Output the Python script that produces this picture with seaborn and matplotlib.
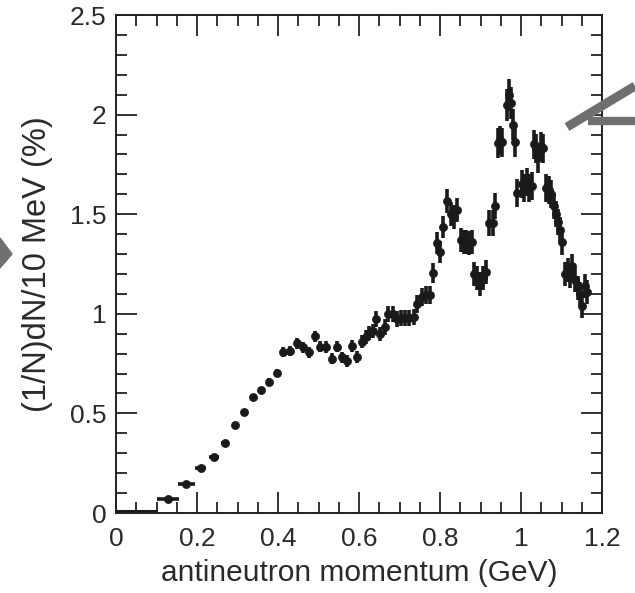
import matplotlib
matplotlib.use("Agg")
import matplotlib.pyplot as plt
from matplotlib.lines import Line2D
from matplotlib.patches import Polygon
from matplotlib.ticker import MultipleLocator
import seaborn as sns
import pandas as pd

# first bin: 0-0.1 GeV drawn as a bare horizontal bar
first_bin_x = 0.05
first_bin_y = 0.01
first_bin_half = 0.05

momentum = [0.129, 0.174, 0.209, 0.242, 0.268, 0.293, 0.316, 0.337, 0.358, 0.378,
            0.397, 0.413, 0.430, 0.446, 0.461, 0.477, 0.491, 0.504, 0.519, 0.533,
            0.546, 0.558, 0.571, 0.583, 0.596, 0.608, 0.617, 0.625, 0.634, 0.642,
            0.652, 0.663, 0.672, 0.683, 0.693, 0.704, 0.714, 0.724, 0.735, 0.744,
            0.755, 0.765, 0.774, 0.782, 0.792, 0.800, 0.808, 0.818, 0.826, 0.834,
            0.843, 0.851, 0.858, 0.865, 0.872, 0.879, 0.884, 0.891, 0.898, 0.906,
            0.914, 0.922, 0.930, 0.936, 0.944, 0.949, 0.954, 0.966, 0.970, 0.974,
            0.979, 0.985, 0.991, 1.002, 1.008, 1.014, 1.020, 1.027, 1.031, 1.037,
            1.043, 1.049, 1.055, 1.062, 1.069, 1.075, 1.081, 1.086, 1.091, 1.096,
            1.101, 1.109, 1.115, 1.120, 1.126, 1.133, 1.141, 1.146, 1.151, 1.158,
            1.164]
rate = [0.070, 0.147, 0.224, 0.281, 0.350, 0.443, 0.507, 0.581, 0.617, 0.659,
        0.701, 0.810, 0.815, 0.852, 0.832, 0.807, 0.887, 0.835, 0.833, 0.774,
        0.835, 0.781, 0.764, 0.838, 0.785, 0.860, 0.885, 0.905, 0.915, 0.975,
        0.897, 0.932, 1.000, 0.999, 0.975, 0.977, 0.980, 0.977, 0.985, 1.050,
        1.085, 1.094, 1.094, 1.205, 1.357, 1.310, 1.437, 1.565, 1.500, 1.487,
        1.520, 1.370, 1.360, 1.360, 1.355, 1.360, 1.200, 1.180, 1.150, 1.180,
        1.210, 1.455, 1.454, 1.540, 1.856, 1.870, 1.860, 2.050, 2.100, 2.060,
        1.950, 1.860, 1.605, 1.650, 1.630, 1.660, 1.630, 1.640, 1.850, 1.830,
        1.780, 1.840, 1.830, 1.630, 1.620, 1.600, 1.540, 1.500, 1.460, 1.420,
        1.360, 1.200, 1.220, 1.190, 1.240, 1.170, 1.130, 1.100, 1.040, 1.140,
        1.110]
rate_err = [0.010, 0.012, 0.012, 0.012, 0.012, 0.014, 0.015, 0.016, 0.017, 0.018,
            0.020, 0.025, 0.025, 0.027, 0.027, 0.027, 0.028, 0.028, 0.028, 0.028,
            0.028, 0.029, 0.029, 0.030, 0.030, 0.032, 0.035, 0.035, 0.035, 0.040,
            0.035, 0.040, 0.040, 0.040, 0.040, 0.040, 0.040, 0.040, 0.040, 0.045,
            0.045, 0.045, 0.045, 0.050, 0.055, 0.055, 0.055, 0.060, 0.060, 0.060,
            0.060, 0.060, 0.060, 0.060, 0.060, 0.060, 0.060, 0.060, 0.060, 0.060,
            0.060, 0.065, 0.065, 0.065, 0.075, 0.075, 0.075, 0.080, 0.080, 0.080,
            0.080, 0.075, 0.070, 0.070, 0.070, 0.070, 0.070, 0.070, 0.075, 0.075,
            0.075, 0.075, 0.075, 0.070, 0.070, 0.070, 0.065, 0.065, 0.065, 0.065,
            0.065, 0.060, 0.060, 0.060, 0.060, 0.060, 0.060, 0.060, 0.060, 0.060,
            0.060]
momentum_err = [0.027, 0.020, 0.014, 0.012, 0.010] + [0.004] * 96

df = pd.DataFrame({"p": momentum, "rate": rate, "rate_err": rate_err, "p_err": momentum_err})

sns.set_theme(style="ticks")
plt.rcParams["font.family"] = ["Liberation Sans", "DejaVu Sans"]

fig = plt.figure(figsize=(6.35, 5.93), dpi=100)
ax = fig.add_axes([0.1827, 0.1349, 0.7654, 0.8398])

ax.errorbar([first_bin_x], [first_bin_y], xerr=[first_bin_half], fmt="none",
            ecolor="#1a1a1a", elinewidth=2.2)
ax.errorbar(df["p"], df["rate"], yerr=df["rate_err"], xerr=df["p_err"], fmt="none",
            ecolor="#1a1a1a", elinewidth=2.6, capsize=0)
sns.scatterplot(data=df, x="p", y="rate", ax=ax, color="#1a1a1a", s=34,
                edgecolor="#1a1a1a", linewidth=0.5, zorder=3)

ax.set_xlim(0, 1.2)
ax.set_ylim(0, 2.5)
ax.xaxis.set_major_locator(MultipleLocator(0.2))
ax.xaxis.set_minor_locator(MultipleLocator(0.05))
ax.yaxis.set_major_locator(MultipleLocator(0.5))
ax.yaxis.set_minor_locator(MultipleLocator(0.1))
ax.set_xticks([0, 0.2, 0.4, 0.6, 0.8, 1.0, 1.2])
ax.set_xticklabels(["0", "0.2", "0.4", "0.6", "0.8", "1", "1.2"])
ax.set_yticks([0, 0.5, 1.0, 1.5, 2.0, 2.5])
ax.set_yticklabels(["0", "0.5", "1", "1.5", "2", "2.5"])
ax.tick_params(which="both", direction="in", top=True, right=True, color="#222222",
               width=1.3, labelsize=19, labelcolor="#2a2a2a")
ax.tick_params(axis="x", pad=10)
ax.tick_params(axis="y", pad=7)
ax.tick_params(which="major", length=15)
ax.tick_params(which="minor", length=8)
for s in ax.spines.values():
    s.set_linewidth(1.4)
    s.set_color("#222222")

ax.set_xlabel("antineutron momentum (GeV)", fontsize=21.5, color="#2a2a2a", labelpad=6)
ax.set_ylabel("(1/N)dN/10 MeV (%)", fontsize=23.5, color="#2a2a2a", labelpad=12)

# grey arrow fragments from the surrounding figure
gray = "#6d706c"
fig.patches.append(Polygon([[0, 1 - 238 / 593], [12 / 635, 1 - 254 / 593], [0, 1 - 268 / 593]],
                           closed=True, transform=fig.transFigure, color=gray))
fig.lines.append(Line2D([567 / 635, 635 / 635], [1 - 127 / 593, 1 - 86 / 593],
                        transform=fig.transFigure, color=gray, linewidth=6.5,
                        solid_capstyle="butt"))
fig.lines.append(Line2D([588 / 635, 635 / 635], [1 - 121 / 593, 1 - 121 / 593],
                        transform=fig.transFigure, color=gray, linewidth=6.0,
                        solid_capstyle="butt"))

fig.savefig("out.png", dpi=100)
plt.close(fig)
